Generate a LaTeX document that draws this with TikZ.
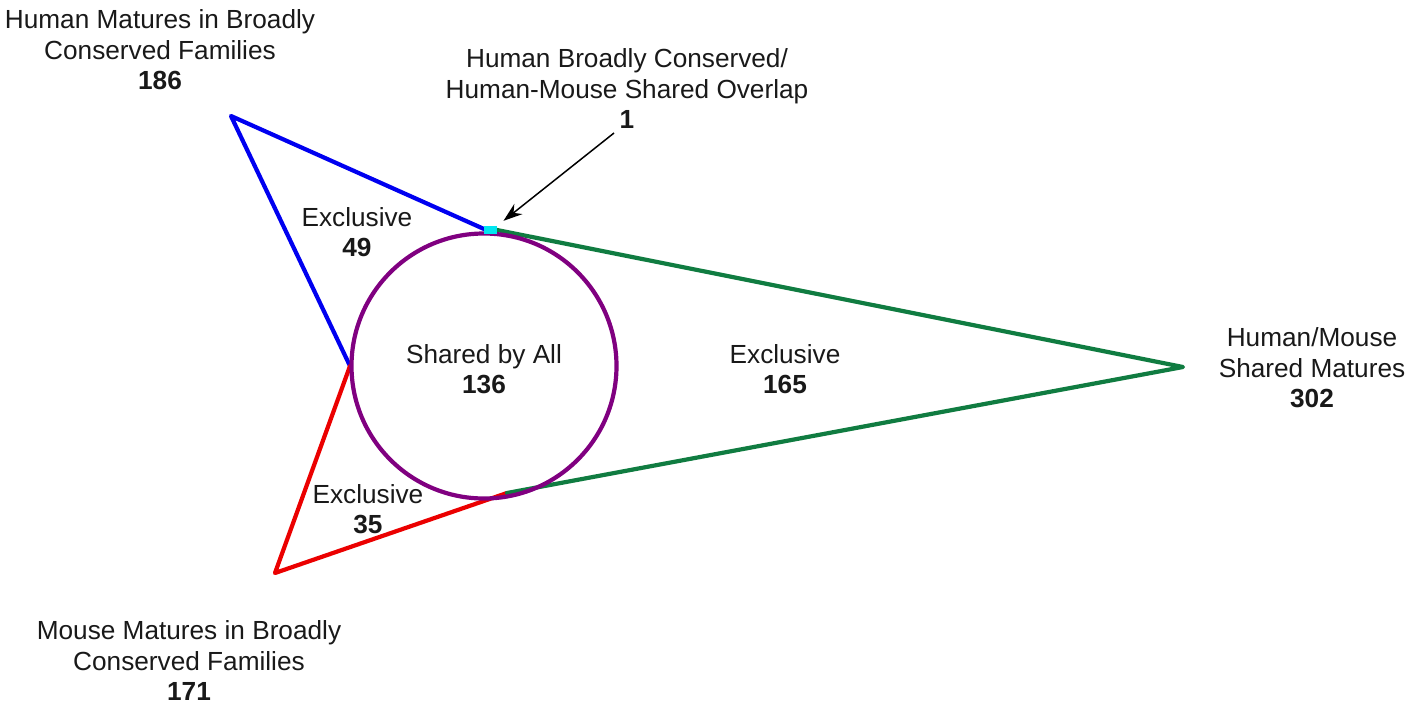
\documentclass[tikz,border=0pt]{standalone}
\usepackage{fontspec}
\setmainfont{Liberation Sans}
\usetikzlibrary{arrows.meta}
\definecolor{cblue}{RGB}{0,0,240}
\definecolor{cgreen}{RGB}{16,124,65}
\definecolor{cred}{RGB}{235,0,0}
\definecolor{cpurple}{RGB}{128,0,128}
\definecolor{ccyan}{RGB}{0,230,240}
\definecolor{ctext}{RGB}{25,25,25}
\begin{document}
\begin{tikzpicture}[x=1pt,y=-1pt,
  lbl/.style={align=center,text=ctext,inner sep=0pt,font=\fontsize{26.2}{30.5}\selectfont},
  edge/.style={line width=4.2pt,line cap=round,line join=round}]
\useasboundingbox (0,0) rectangle (1414,712);
\coordinate (hv) at (231,116);
\coordinate (mv) at (275,573);
\coordinate (sv) at (1183,367);
\coordinate (lt) at (350,366);
\coordinate (bt) at (507,493);
\coordinate (tl) at (484,229);
\coordinate (tr) at (497,230);
% triangles
\draw[edge,cblue] (tl) -- (hv) -- (lt);
\draw[edge,cred] (lt) -- (mv) -- (bt);
\draw[edge,cgreen] (tr) -- (sv) -- (bt);
% circle
\node[draw=cpurple,line width=4.2pt,circle,minimum size=265pt,inner sep=0pt] (all) at (484,366) {};
% overlap square
\node[fill=ccyan,minimum width=13pt,minimum height=8pt,inner sep=0pt] (ov) at (490.5,230) {};
% labels
\node[lbl] (hlab) at (160,50) {Human Matures in Broadly\\Conserved Families\\\textbf{186}};
\node[lbl] (olab) at (627,89) {Human Broadly Conserved/\\Human-Mouse Shared Overlap\\\textbf{1}};
\node[lbl] (e49) at (357,232) {Exclusive\\\textbf{49}};
\node[lbl] (e136) at (484,369) {Shared by All\\\textbf{136}};
\node[lbl] (e165) at (785,369) {Exclusive\\\textbf{165}};
\node[lbl] (slab) at (1312,368) {Human/Mouse\\Shared Matures\\\textbf{302}};
\node[lbl] (e35) at (368,509) {Exclusive\\\textbf{35}};
\node[lbl] (mlab) at (189,661) {Mouse Matures in Broadly\\Conserved Families\\\textbf{171}};
% arrow
\coordinate (as) at (614,133);
\draw[line width=1.5pt,shorten >=8pt,-{Stealth[length=19pt,width=13pt]}] (as) -- (ov.north east);
\end{tikzpicture}
\end{document}
